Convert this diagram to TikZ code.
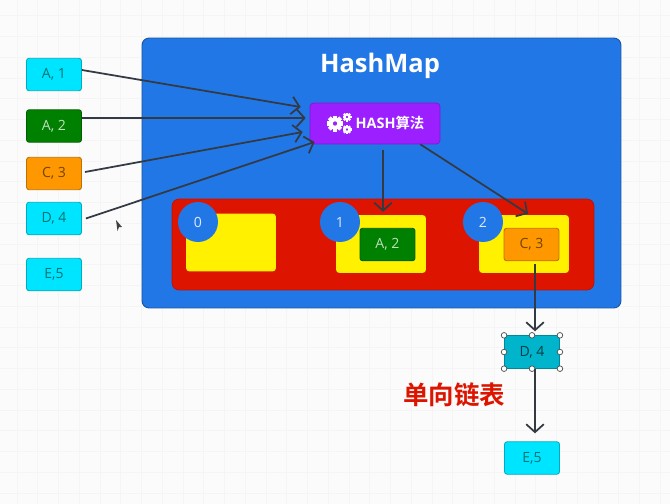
\documentclass[tikz,border=0pt]{standalone}
\usepackage{fontspec}
\setmainfont{Open Sans}
\newfontfamily\cjk{Noto Sans CJK SC}[BoldFont={Noto Sans CJK SC Bold}]
\usetikzlibrary{calc, arrows.meta}
\definecolor{mapblue}{HTML}{2277E6}
\definecolor{slotred}{HTML}{DD1500}
\definecolor{slotyellow}{HTML}{FFF100}
\definecolor{itemcyan}{HTML}{00E5FF}
\definecolor{itemgreen}{HTML}{008000}
\definecolor{itemorange}{HTML}{FF9800}
\definecolor{itemteal}{HTML}{00B4CC}
\definecolor{hashpurple}{HTML}{9C1FFF}
\definecolor{linegray}{HTML}{333A44}
\tikzset{
 item/.style={draw=#1!75!black, fill=#1, rounded corners=1.5pt, minimum width=1.1cm, minimum height=0.65cm, inner sep=0pt, font=\fontsize{8}{10}\selectfont, line width=0.5pt},
 slot/.style={fill=slotyellow, rounded corners=2pt, minimum width=1.8cm, minimum height=1.16cm, inner sep=0pt},
 badge/.style={circle, fill=mapblue, minimum size=0.8cm, inner sep=0pt, text=white!85!mapblue, font=\fontsize{8}{10}\selectfont},
 flow/.style={draw=linegray, line width=1pt, -{Straight Barb[length=4.5pt,width=10pt,line width=1pt]}},
 handle/.style={circle, draw=black!70, fill=white, line width=0.4pt, minimum size=3.2pt, inner sep=0pt}
}
% gear icon: centre x, centre y, radius
\newcommand{\gearicon}[3]{
 \draw[white, line width=#3*0.28pt] (#1,#2) circle ({#3*0.55});
 \foreach \ang in {0,45,...,315}
  \draw[white, line width=#3*0.3pt] ($(#1,#2)+(\ang:{#3*0.6})$) -- ($(#1,#2)+(\ang:#3)$);
}

\begin{document}
\begin{tikzpicture}[x=0.02cm, y=-0.02cm]
 \useasboundingbox (0,0) rectangle (670,504);
 \fill[white!98.5!black] (0,0) rectangle (670,504);

 % grid
 \foreach \gx in {17,37.75,...,670} \draw[black!4, line width=0.5pt] (\gx,0) -- (\gx,504);
 \foreach \gy in {15.75,36.5,...,504} \draw[black!4, line width=0.5pt] (0,\gy) -- (670,\gy);

 % containers
 \node (map) at (381.5,173) [draw=mapblue!70!black, fill=mapblue, rounded corners=4pt, minimum width=9.58cm, minimum height=5.4cm, inner sep=0pt, line width=0.5pt] {};
 \node (maptitle) at (380,66) [text=white, font=\fontsize{14.5}{18}\selectfont\bfseries] {HashMap};
 \node (table) at (383,244.5) [fill=slotred, draw=slotred!85!black, rounded corners=4pt, minimum width=8.44cm, minimum height=1.82cm, inner sep=0pt, line width=0.4pt] {};

 \node[slot] (slot0) at (231,242.5) {};
 \node[slot] (slot1) at (381,244) {};
 \node[slot] (slot2) at (524,244) {};

 \node[badge] (idx0) at (198,222) {0};
 \node[badge] (idx1) at (340,222) {1};
 \node[badge] (idx2) at (483,222) {2};

 % left column
 \node[item=itemcyan, text=black!10!teal] (a1) at (54,74.5) {A, 1};
 \node[item=itemgreen, text=white!75!itemgreen] (a2) at (54,126) {A, 2};
 \node[item=itemorange, text=black!55!itemorange] (c3) at (54,173.5) {C, 3};
 \node[item=itemcyan, text=black!10!teal] (d4) at (54,218.5) {D, 4};
 \node[item=itemcyan, text=black!10!teal] (e5) at (54,274.5) {E,5};

 % hash box
 \node (hash) at (375,123.5) [draw=hashpurple!80!black, fill=hashpurple, rounded corners=2pt, minimum width=2.6cm, minimum height=0.82cm, inner sep=0pt, line width=0.4pt] {};
 \node (hashtext) at (390,123) [text=white, font=\fontsize{8.2}{10}\selectfont\bfseries] {HASH{\cjk 算法}};
 \gearicon{335}{123.5}{8}
 \gearicon{347}{117}{4.5}
 \gearicon{347}{129.5}{4.5}

 % buckets
 \node[item=itemgreen, text=white!75!itemgreen] (a2b) at (387.5,244.5) {A, 2};
 \node[item=itemorange, text=black!55!itemorange] (c3b) at (531.5,244.5) {C, 3};

 % list
 \node[item=itemteal, text=black!65!itemteal, rounded corners=0pt] (d4b) at (532,352) {D, 4};
 \node[item=itemcyan, text=black!10!teal] (e5b) at (532,458) {E,5};
 \foreach \pos in {north west, north, north east, west, east, south west, south, south east}
  \node[handle] (h-\pos) at (d4b.\pos) {};
 \node (listlabel) at (454,395) [text=slotred, font=\fontsize{14.5}{16}\selectfont\cjk\bfseries] {单向链表};

 % arrows
 \draw[flow] ([shift={(0,-4.5)}]a1.east) -- ([shift={(-9,-16.5)}]hash.west);
 \draw[flow] ([shift={(0,-8)}]a2.east) -- ([shift={(-4,-5.5)}]hash.west);
 \draw[flow] ([shift={(3,-1.5)}]c3.east) -- ([shift={(-7,8.5)}]hash.west);
 \draw[flow] ([shift={(4,0)}]d4.east) -- ([shift={(5,18.5)}]hash.west);
 \draw[flow] ([shift={(8,6)}]hash.south) -- ([shift={(-4.5,-16)}]a2b.north);
 \draw[flow] ([shift={(-20,0)}]hash.south east) -- ([shift={(-3.5,-14)}]c3b.north);
 \draw[flow] ([shift={(3.5,3)}]c3b.south) -- ([shift={(3,-4)}]h-north.center);
 \draw[flow] ([shift={(3,0)}]h-south.center) -- ([shift={(3,-8)}]e5b.north);

 % cursor
 \fill[black!75] (116,220) -- (122,227) -- (119,227) -- (117.5,231) -- cycle;
\end{tikzpicture}
\end{document}
